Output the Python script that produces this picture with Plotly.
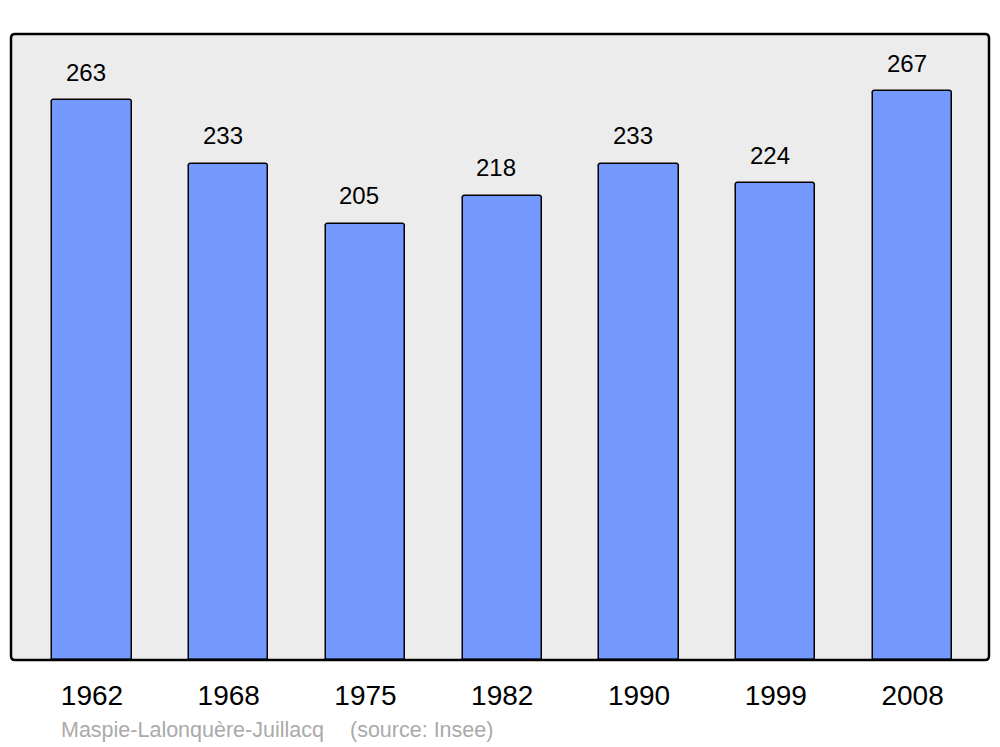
import plotly.graph_objects as go

years = ["1962", "1968", "1975", "1982", "1990", "1999", "2008"]
population = [263, 233, 205, 218, 233, 224, 267]
commune = "Maspie-Lalonquère-Juillacq"
source = "(source: Insee)"

idx = list(range(len(years)))
FONT = "Liberation Sans, Arial, sans-serif"

fig = go.Figure()
fig.add_trace(go.Bar(
    x=idx, y=population, width=0.58,
    marker=dict(color="#7399ff", line=dict(color="#000000", width=1.5), cornerradius=3),
    hoverinfo="skip",
))

for i, v in zip(idx, population):
    fig.add_annotation(x=i, y=v, xref="x", yref="y", text=str(v), showarrow=False,
                       yanchor="middle", yshift=28, xshift=-6,
                       font=dict(family=FONT, size=24, color="#000"))

fig.add_annotation(x=(59 - 11) / 978, y=-(730 - 660) / 626, xref="x domain", yref="y domain",
                   text=commune, showarrow=False, xanchor="left", yanchor="middle",
                   font=dict(family=FONT, size=21.5, color="#aaaaaa"))
fig.add_annotation(x=(348 - 11) / 978, y=-(730 - 660) / 626, xref="x domain", yref="y domain",
                   text=source, showarrow=False, xanchor="left", yanchor="middle",
                   font=dict(family=FONT, size=21.5, color="#aaaaaa"))

# rounded plot frame
rx, ry = 4 / 978, 4 / 626
path = (f"M {rx},0 L {1-rx},0 Q 1,0 1,{ry} L 1,{1-ry} Q 1,1 {1-rx},1 "
        f"L {rx},1 Q 0,1 0,{1-ry} L 0,{ry} Q 0,0 {rx},0 Z")
fig.add_shape(type="path", xref="paper", yref="paper", path=path,
              line=dict(color="#000000", width=2.5), fillcolor="rgba(0,0,0,0)", layer="above")

fig.update_layout(
    width=992, height=739,
    margin=dict(l=3, r=11, t=26, b=87),
    paper_bgcolor="#ffffff", plot_bgcolor="#ececec",
    showlegend=False, bargap=0,
    xaxis=dict(range=[-0.592, 6.559], tickvals=idx, ticktext=years, showgrid=False,
               zeroline=False, showline=False, ticks="", ticklabelstandoff=16,
               tickfont=dict(family=FONT, size=28, color="#000")),
    yaxis=dict(range=[0, 294], showgrid=False, zeroline=False, showticklabels=False, ticks=""),
)

fig.write_html("out.html")
